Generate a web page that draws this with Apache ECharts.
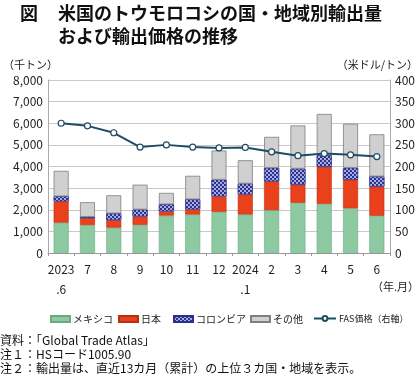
<!DOCTYPE html>
<html><head><meta charset="utf-8">
<script src="https://cdn.jsdelivr.net/npm/echarts@6/dist/echarts.min.js"></script>
<style>html,body{margin:0;padding:0;background:#fff}#c{width:420px;height:378px}</style>
</head><body><div id="c"></div>
<script>
var categories = ['2023\n.6','7','8','9','10','11','12','2024\n.1','2','3','4','5','6'];
var mexico   = [1400,1290,1170,1300,1730,1780,1900,1780,1980,2320,2270,2070,1720];
var japan    = [990, 320, 350, 390, 200, 240, 720, 930, 1330,840, 1720,1320,1350];
var colombia = [230, 60,  310, 320, 320, 460, 770, 500, 630, 740, 530, 550, 470];
var others   = [1180,680, 840, 1150,530, 1090,1350,1080,1430,2000,1910,2040,1950];
var fasPrice = [300, 294, 278, 245, 250, 245, 243, 244, 234, 225, 230, 227, 223];
var seriesNames = ['メキシコ','日本','コロンビア','その他','FAS価格（右軸）'];
var leftTicks = {min:0, max:8000, interval:1000};
var rightTicks = {min:0, max:400, interval:50};

var F = '"Noto Sans CJK JP", sans-serif';
function comma(v){return String(v).replace(/\B(?=(\d{3})+(?!\d))/g, ',');}
var chart = echarts.init(document.getElementById('c'), null, {renderer:'canvas'});
var barW = 15;
var legLeft = [50, 118, 173, 250, 313];
var legends = seriesNames.map(function(n, i){
  return {
    left:legLeft[i], top:314, itemWidth:(i===4?22:19), itemHeight:6, padding:0,
    textStyle:{fontSize:(i===4?9:10), color:'#222', fontFamily:F, padding:[0,0,0,-2]},
    data:[i===4 ? {name:n} : {name:n, icon:'rect'}]
  };
});
chart.setOption({
  animation:false,
  textStyle:{fontFamily:F},
  grid:{left:48,right:30,top:80,bottom:125},
  legend:legends,
  xAxis:{
    type:'category', data:categories,
    axisLine:{lineStyle:{color:'#999'}},
    axisTick:{show:true,length:3,lineStyle:{color:'#999'}},
    axisLabel:{color:'#222',fontSize:12,lineHeight:20,margin:6,fontFamily:F,interval:0}
  },
  yAxis:[
    {type:'value', min:leftTicks.min, max:leftTicks.max, interval:leftTicks.interval,
     axisLine:{show:true,lineStyle:{color:'#aaa'}}, axisTick:{show:false},
     splitLine:{lineStyle:{color:'#c8c8c8'}},
     axisLabel:{color:'#222',fontSize:12,margin:5,formatter:comma,fontFamily:F}},
    {type:'value', min:rightTicks.min, max:rightTicks.max, interval:rightTicks.interval,
     axisLine:{show:true,lineStyle:{color:'#aaa'}}, axisTick:{show:false},
     splitLine:{show:false},
     axisLabel:{color:'#222',fontSize:12,margin:5,fontFamily:F}}
  ],
  series:[
    {name:seriesNames[0],type:'bar',stack:'a',barWidth:barW,data:mexico,
     itemStyle:{color:'#8dcaa2',borderColor:'#6aa982',borderWidth:0.6}},
    {name:seriesNames[1],type:'bar',stack:'a',barWidth:barW,data:japan,
     itemStyle:{color:'#e8411c',borderColor:'#b8300f',borderWidth:0.6}},
    {name:seriesNames[2],type:'bar',stack:'a',barWidth:barW,data:colombia,
     itemStyle:{color:'#2b3190',borderColor:'#2b3190',borderWidth:0.6,
       decal:{symbol:'rect',symbolSize:1,color:'#a9addb',dashArrayX:[[2,2],[0,2,2,0]],dashArrayY:[2,0],rotation:0}}},
    {name:seriesNames[3],type:'bar',stack:'a',barWidth:barW,data:others,
     itemStyle:{color:'#d0d0d0',borderColor:'#7f7f7f',borderWidth:0.8}},
    {name:seriesNames[4],type:'line',yAxisIndex:1,data:fasPrice,
     symbol:'circle',symbolSize:6,
     lineStyle:{color:'#1e4d63',width:2},
     itemStyle:{color:'#fff',borderColor:'#1e4d63',borderWidth:1.2}}
  ],
  graphic:[
    {type:'text',left:20,top:4,style:{text:'図',font:'bold 18px '+F,fill:'#111'}},
    {type:'text',left:58,top:4,style:{text:'米国のトウモロコシの国・地域別輸出量',font:'bold 18px '+F,fill:'#111'}},
    {type:'text',left:58,top:27,style:{text:'および輸出価格の推移',font:'bold 18px '+F,fill:'#111'}},
    {type:'text',left:3,top:59,style:{text:'（千トン）',font:'11px '+F,fill:'#222'}},
    {type:'text',right:2,top:59,style:{text:'（米ドル/トン）',font:'11px '+F,fill:'#222'}},
    {type:'text',right:1,top:281,style:{text:'（年.月）',font:'11px '+F,fill:'#222'}},
    {type:'text',left:0,top:334,style:{text:'資料：「Global Trade Atlas」',font:'12px '+F,fill:'#111'}},
    {type:'text',left:0,top:348,style:{text:'注１：HSコード1005.90',font:'12px '+F,fill:'#111'}},
    {type:'text',left:0,top:362,style:{text:'注２：輸出量は、直近13カ月（累計）の上位３カ国・地域を表示。',font:'12px '+F,fill:'#111'}}
  ]
});
</script></body></html>
